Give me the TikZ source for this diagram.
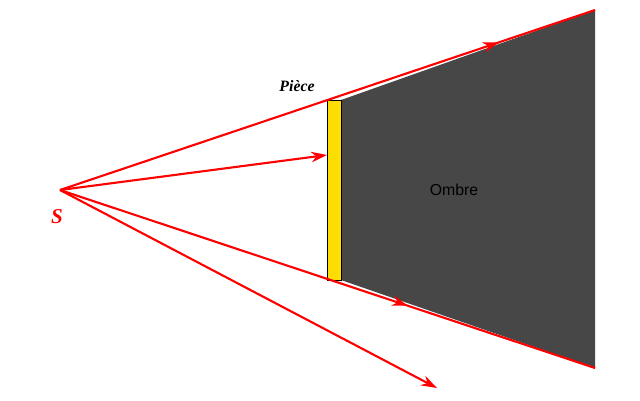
\documentclass[tikz,border=0pt]{standalone}
\usepackage{fontspec}
\setmainfont{Liberation Serif}
\setsansfont{Liberation Sans}
\usetikzlibrary{decorations.markings,arrows.meta}
\begin{document}
\begin{tikzpicture}[x=0.02cm,y=-0.02cm,
    ray/.style={red, line width=1.2pt},
    midarrow/.style={postaction={decorate}, decoration={markings,
        mark=at position #1 with {\arrow{Stealth[length=9pt,width=6pt]}}}}]

    \useasboundingbox (0,0) rectangle (640,400);
    \coordinate (S) at (60,190);
    \coordinate (top) at (595,10);
    \coordinate (bot) at (595,368);
    \coordinate (hit) at (327,155);
    \coordinate (far) at (437,388);

    \fill[gray!20!black!80] (341,100) -- (top) -- (bot) -- (341,280) -- cycle;
    \draw[fill=yellow!80!orange] (327,100) rectangle (341,280);

    \draw[ray, midarrow=0.82] (S) -- (top);
    \draw[ray, midarrow=0.65] (S) -- (bot);
    \draw[ray, -{Stealth[length=9pt,width=6pt]}] (S) -- (hit);
    \draw[ray, -{Stealth[length=9pt,width=6pt]}] (S) -- (far);

    \node[font=\small\bfseries\itshape] (piece) at (297,86) {Pièce};
    \node[font=\large\bfseries\itshape, red] (source) at (57,217) {S};
    \node[font=\sffamily\small] (ombre) at (454,190) {Ombre};

\end{tikzpicture}
\end{document}
